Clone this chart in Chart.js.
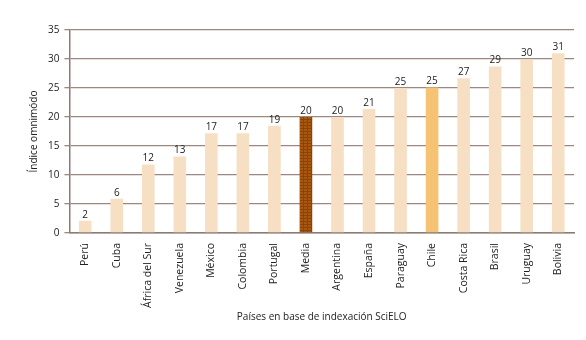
<!DOCTYPE html>
<html>
<head>
<meta charset="utf-8">
<script src="https://cdn.jsdelivr.net/npm/chart.js@4"></script>
<style>
  html, body { margin: 0; padding: 0; background: #fff; }
  #wrap { width: 586px; height: 340px; position: relative; }
</style>
</head>
<body>
<div id="wrap"><canvas id="chart"></canvas></div>
<script>
const countries = ['Perú', 'Cuba', 'África del Sur', 'Venezuela', 'México', 'Colombia', 'Portugal', 'Media',
  'Argentina', 'España', 'Paraguay', 'Chile', 'Costa Rica', 'Brasil', 'Uruguay', 'Bolivia'];
const values = [2.1, 5.9, 11.8, 13.2, 17.2, 17.2, 18.5, 20, 20, 21.4, 25, 25.1, 26.7, 28.7, 29.9, 31];
const valueLabels = ['2', '6', '12', '13', '17', '17', '19', '20', '20', '21', '25', '25', '27', '29', '30', '31'];
const yTicks = [0, 5, 10, 15, 20, 25, 30, 35];

// hatched fill for the "Media" bar
function mediaPattern() {
  const c = document.createElement('canvas');
  c.width = 4; c.height = 3;
  const g = c.getContext('2d');
  g.fillStyle = '#a9560f';
  g.fillRect(0, 0, 4, 3);
  g.fillStyle = '#8a4308';
  g.fillRect(0, 2, 4, 1);
  g.fillRect(3, 0, 1, 3);
  return g.createPattern(c, 'repeat');
}

const barColors = countries.map(c => {
  if (c === 'Media') return mediaPattern();
  if (c === 'Chile') return '#f6c274';
  return '#f6dfc3';
});

const valueLabelPlugin = {
  id: 'valueLabels',
  afterDatasetsDraw(chart) {
    const ctx = chart.ctx;
    const meta = chart.getDatasetMeta(0);
    ctx.save();
    ctx.font = '10px "Open Sans", sans-serif';
    ctx.fillStyle = '#222';
    ctx.textAlign = 'center';
    ctx.textBaseline = 'bottom';
    meta.data.forEach((bar, i) => {
      ctx.fillText(valueLabels[i], bar.x, bar.y - 1);
    });
    ctx.restore();
  }
};

const ctx = document.getElementById('chart').getContext('2d');
new Chart(ctx, {
  type: 'bar',
  data: {
    labels: countries,
    datasets: [{
      data: values,
      backgroundColor: barColors,
      borderWidth: 0,
      categoryPercentage: 1,
      barPercentage: 0.4
    }]
  },
  options: {
    responsive: true,
    maintainAspectRatio: false,
    animation: false,
    layout: { padding: { left: 28, right: 12, top: 30, bottom: 17 } },
    plugins: {
      legend: { display: false },
      tooltip: { enabled: false }
    },
    scales: {
      x: {
        afterFit(axis) { axis.height = 90; },
        grid: { display: false, drawTicks: false },
        border: { color: '#8c7a74', width: 1.5 },
        ticks: {
          minRotation: 90, maxRotation: 90, padding: 10,
          color: '#222',
          font: { family: '"Open Sans", sans-serif', size: 10.5 }
        },
        title: {
          display: true,
          text: 'Países en base de indexación SciELO',
          color: '#222',
          font: { family: '"Open Sans", sans-serif', size: 10 },
          padding: { top: 0, bottom: 0 }
        }
      },
      y: {
        min: 0, max: 35,
        afterBuildTicks(axis) { axis.ticks = yTicks.map(v => ({ value: v })); },
        grid: { color: '#9c8781', lineWidth: 1.3, tickLength: 5 },
        border: { color: '#8c7a74', width: 1.5 },
        ticks: {
          color: '#222', padding: 5,
          font: { family: '"Open Sans", sans-serif', size: 10 }
        },
        title: {
          display: true,
          text: 'Índice omnimódo',
          color: '#222',
          font: { family: '"Open Sans", sans-serif', size: 10 },
          padding: { top: 0, bottom: 3 }
        }
      }
    }
  },
  plugins: [valueLabelPlugin]
});
</script>
</body>
</html>
